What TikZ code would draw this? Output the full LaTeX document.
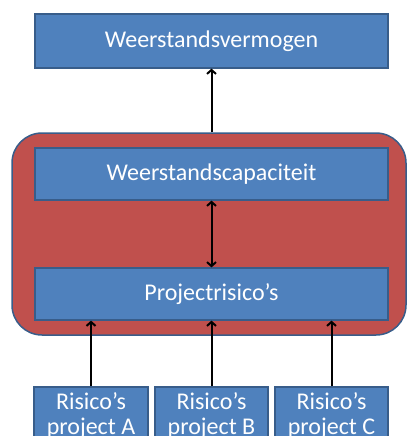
\documentclass[tikz,border=0pt]{standalone}
\usepackage{fontspec}
\setmainfont{Carlito}
\usetikzlibrary{arrows.meta}
\definecolor{boxblue}{HTML}{4F81BD}
\definecolor{boxline}{HTML}{385D8A}
\definecolor{boxred}{HTML}{C0504D}

\begin{document}
\begin{tikzpicture}[x=1pt, y=-1pt,
    Box/.style={rectangle, draw=boxline, fill=boxblue, line width=1.2pt, text=white, align=center, font=\fontsize{24}{25}\selectfont, inner sep=0pt},
    Group/.style={rectangle, rounded corners=30pt, draw=boxline, fill=boxred, line width=1.5pt, inner sep=0pt},
    Link/.style={line width=2, arrows={-Straight Barb[length=4pt,width=9pt]}}]
        \useasboundingbox (0,0) rectangle (408,436);
        \clip (0,0) rectangle (408,436);
        \node[Group, minimum width=394pt, minimum height=202pt] (G) at (209,234){};
        \node[Box, minimum width=353pt, minimum height=54pt] (W) at (211.5,41){Weerstandsvermogen};
        \node[Box, minimum width=353pt, minimum height=52pt] (C) at (211.5,174){Weerstandscapaciteit};
        \node[Box, minimum width=353pt, minimum height=52pt] (P) at (211.5,294){Projectrisico’s};
        \node[Box, minimum width=114pt, minimum height=58pt] (A) at (91,416){Risico’s\\project A};
        \node[Box, minimum width=113pt, minimum height=58pt] (B) at (211.5,416){Risico’s\\project B};
        \node[Box, minimum width=113pt, minimum height=58pt] (D) at (331.5,416){Risico’s\\project C};

        \draw[Link] (W.south |- G.north) -- (W.south);
        \draw[Link, arrows={Straight Barb[length=4pt,width=9pt]-Straight Barb[length=4pt,width=9pt]}] (C.south) -- (P.north);
        \draw[Link] (A.north) -- (A.north |- P.south);
        \draw[Link] (B.north) -- (B.north |- P.south);
        \draw[Link] (D.north) -- (D.north |- P.south);
    \end{tikzpicture}
\end{document}
